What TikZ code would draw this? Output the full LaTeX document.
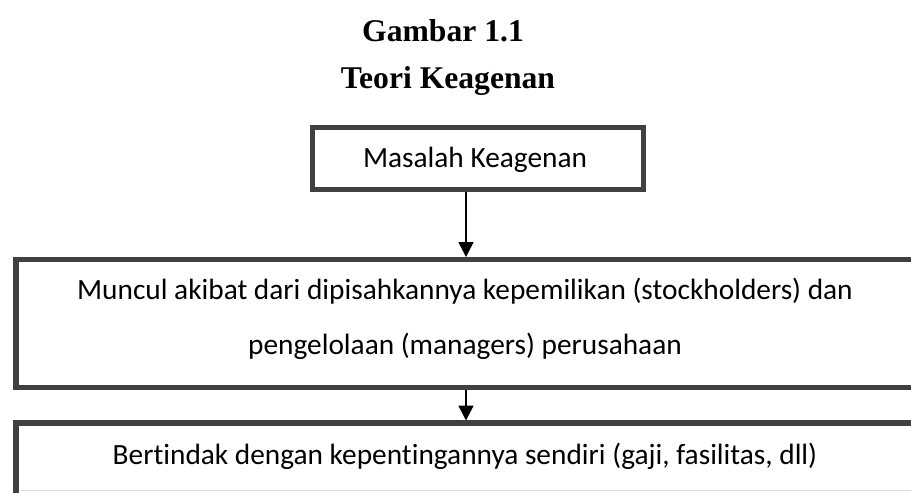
\documentclass[tikz,border=0pt]{standalone}
\usepackage{fontspec}
\setmainfont{Liberation Serif}
\newfontfamily\boxfont[Ligatures=NoCommon]{Carlito}
\usetikzlibrary{arrows.meta}

\begin{document}
\begin{tikzpicture}[>={Triangle[width=8.5pt,length=8.5pt]},
    box/.style={draw=black!75,line width=2.85pt,inner sep=0pt},
    boxtext/.style={font=\boxfont\fontsize{16.7}{31.3}\selectfont,align=center},
    caption/.style={font=\bfseries\fontsize{18}{22}\selectfont},
    flow/.style={->,line width=0.85pt}]
%
\useasboundingbox (0,0) rectangle (18.22,9.84);
\clip (0,0) rectangle (18.22,9.84);
%
% ============ Judul ============
\node[caption,anchor=base] (judul) at (8.86,9.01) {Gambar 1.1};
\node[caption,anchor=base] (subjudul) at (8.96,8.07) {Teori Keagenan};
%
% ============ Kotak 1: Masalah ============
\node[box,minimum width=6.61cm,minimum height=1.24cm] (masalah) at (9.555,6.67) {};
\node[boxtext,anchor=base] (masalahtext) at (9.5,6.48) {Masalah Keagenan};
%
% ============ Kotak 2: Sebab ============
% rechts abgeschnitten, wie im Original
\node[box,minimum width=18cm,minimum height=2.56cm] (sebab) at (9.32,3.37) {};
\node[boxtext] (sebabtext) at (9.3,3.46)
  {Muncul akibat dari dipisahkannya kepemilikan (stockholders) dan\\
   pengelolaan (managers) perusahaan};
%
% ============ Kotak 3: Akibat ============
\node[box,minimum width=18cm,minimum height=2.6cm] (akibat) at (9.32,0.08) {};
\node[boxtext,anchor=base] (akibattext) at (9.3,0.55)
  {Bertindak dengan kepentingannya sendiri (gaji, fasilitas, dll)};
% schwache Linie am unteren Rand
\draw[black!12,line width=0.6pt] (0.42,0.03) -- (18.22,0.03);
%
% Panah
\draw[flow] (masalah.south -| sebab.north) -- (sebab.north);
\draw[flow] (sebab.south) -- (akibat.north);
%
\end{tikzpicture}
\end{document}
